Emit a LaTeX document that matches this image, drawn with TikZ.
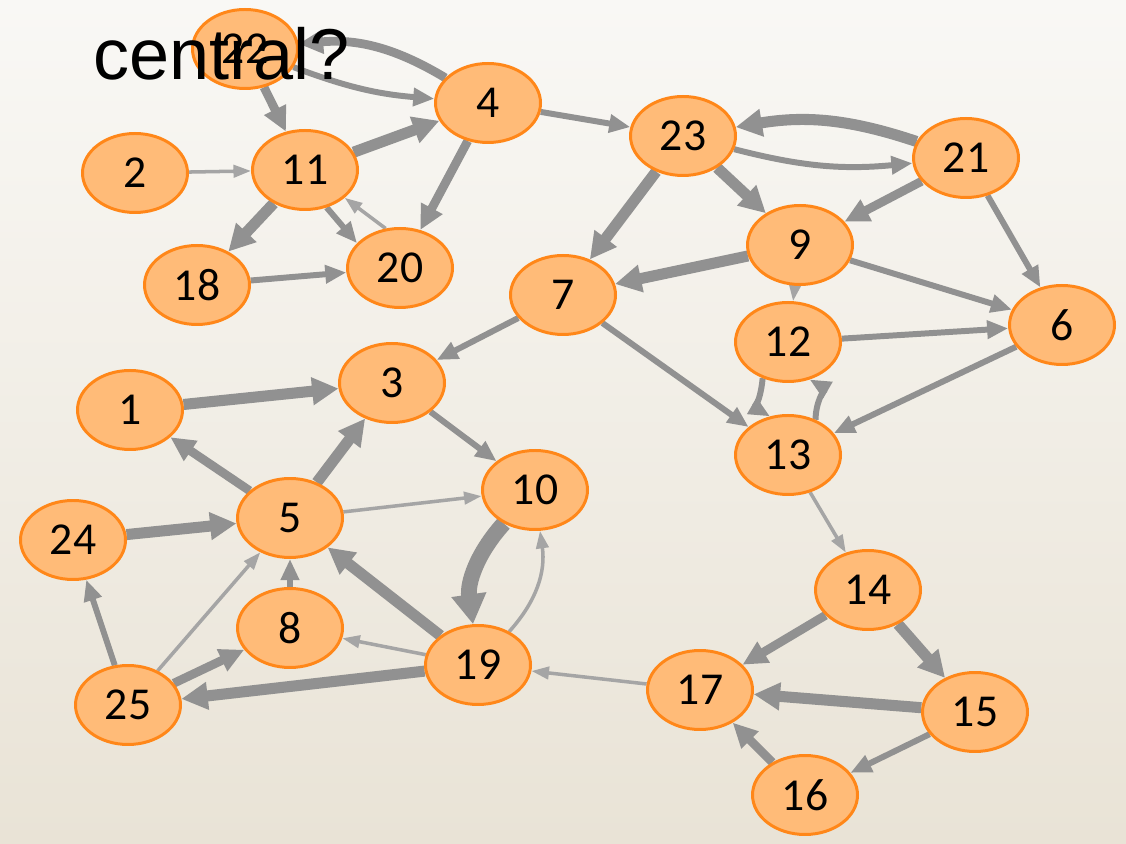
\documentclass[tikz,border=0pt]{standalone}
\usepackage{fontspec}
\setmainfont{Carlito}
\newfontfamily\arialf{Liberation Sans}
\usetikzlibrary{shapes.geometric,arrows.meta}
\pgfdeclarelayer{bg}
\pgfdeclarelayer{edges}
\pgfsetlayers{bg,edges,main}
\definecolor{nodefill}{RGB}{255,187,120}
\definecolor{nodedraw}{RGB}{255,135,25}
\definecolor{edgecol}{RGB}{145,145,145}
\definecolor{edgelight}{RGB}{165,165,165}
\definecolor{bgtop}{RGB}{249,248,245}
\definecolor{bgbot}{RGB}{233,227,214}
\tikzset{
 vtx/.style={ellipse, draw=nodedraw, fill=nodefill, line width=1.7pt, minimum width=2.1cm, minimum height=1.58cm, inner sep=0pt, font=\fontsize{26}{30}\selectfont},
 ea/.style={draw=edgelight, line width=2pt, -{Triangle[length=10pt,width=7pt]}},
 eb/.style={draw=edgecol, line width=3.4pt, -{Triangle[length=12pt,width=10pt]}},
 ec/.style={draw=edgecol, line width=5pt, -{Triangle[length=14pt,width=13pt]}},
 ed/.style={draw=edgecol, line width=6.3pt, -{Triangle[length=15pt,width=15pt]}},
 ee/.style={draw=edgecol, line width=9pt, -{Triangle[length=17pt,width=19pt]}},
}
\begin{document}
\begin{tikzpicture}
\useasboundingbox (0,0) rectangle (22.52,16.86);
\begin{pgfonlayer}{bg}
\shade[top color=bgtop, bottom color=bgbot] (0,0) rectangle (22.52,16.86);
\end{pgfonlayer}
% nodes
\node[vtx] (n22) at (4.90,15.88) {22};
\node[vtx] (n4)  at (9.76,14.80) {4};
\node[vtx] (n2)  at (2.70,13.40) {2};
\node[vtx] (n11) at (6.10,13.46) {11};
\node[vtx] (n23) at (13.66,14.14) {23};
\node[vtx] (n21) at (19.32,13.70) {21};
\node[vtx] (n18) at (3.94,11.16) {18};
\node[vtx] (n20) at (8.00,11.50) {20};
\node[vtx] (n9)  at (16.00,11.96) {9};
\node[vtx] (n7)  at (11.26,10.96) {7};
\node[vtx] (n6)  at (21.24,10.36) {6};
\node[vtx] (n12) at (15.76,10.02) {12};
\node[vtx] (n3)  at (7.84,9.20) {3};
\node[vtx] (n1)  at (2.60,8.66) {1};
\node[vtx] (n13) at (15.76,7.76) {13};
\node[vtx] (n10) at (10.70,7.06) {10};
\node[vtx] (n5)  at (5.80,6.50) {5};
\node[vtx] (n24) at (1.46,6.06) {24};
\node[vtx] (n14) at (17.36,5.06) {14};
\node[vtx] (n8)  at (5.80,4.30) {8};
\node[vtx] (n19) at (9.56,3.56) {19};
\node[vtx] (n17) at (14.00,3.06) {17};
\node[vtx] (n15) at (19.50,2.62) {15};
\node[vtx] (n25) at (2.56,2.76) {25};
\node[vtx] (n16) at (16.10,0.96) {16};
% edges
\begin{pgfonlayer}{edges}
\draw[ec] (n22) -- (n11);
\draw[ec] (n4) to[bend right=18] (n22);
\draw[eb] (n22) to[bend right=8] (n4);
\draw[ea] (n2) -- (n11);
\draw[ed] (n11) -- (n4);
\draw[ec] (n4) -- (n20);
\draw[ed] (n11) -- (n18);
\draw[eb] (n11.-60) -- (n20.150);
\draw[ea] (n20.110) -- (n11.-35);
\draw[eb] (n18) -- (n20);
\draw[eb] (n4) -- (n23);
\draw[ed] (n21) to[bend right=14] (n23);
\draw[eb] (n23) to[bend right=10] (n21);
\draw[ed] (n23) -- (n9);
\draw[ed] (n23) -- (n7);
\draw[ec] (n21) -- (n9);
\draw[eb] (n21) -- (n6);
\draw[ed] (n9) -- (n7);
\draw[eb] (n9) -- (n6);
\draw[ea] (n9) -- (n12);
\draw[eb] (n12) -- (n6);
\draw[eb] (n12.235) to[out=265,in=150] (n13.115);
\draw[eb] (n13.52) to[out=90,in=-30] (n12.300);
\draw[eb] (n6) -- (n13);
\draw[eb] (n7) -- (n13);
\draw[eb] (n7) -- (n3);
\draw[ea] (n13) -- (n14);
\draw[ec] (n14) -- (n17);
\draw[ed] (n14) -- (n15);
\draw[ed] (n15) -- (n17);
\draw[eb] (n15) -- (n16);
\draw[ec] (n16) -- (n17);
\draw[ea] (n17) -- (n19);
\draw[ed] (n1) -- (n3);
\draw[ec] (n5) -- (n1);
\draw[ed] (n5) -- (n3);
\draw[eb] (n3) -- (n10);
\draw[ea] (n5) -- (n10);
\draw[ed] (n24) -- (n5);
\draw[eb] (n25) -- (n24);
\draw[ea] (n25) -- (n5);
\draw[ec] (n25) -- (n8);
\draw[eb] (n8) -- (n5);
\draw[ed] (n19) -- (n5);
\draw[ea] (n19) -- (n8);
\draw[ed] (n19) -- (n25);
\draw[ee] (n10) to[bend right=25] (n19);
\draw[ea] (n19) to[bend right=25] (n10);
\end{pgfonlayer}
\node[font=\arialf\fontsize{41}{48}\selectfont, anchor=base west, inner sep=0pt] (title) at (1.86,15.26) {central?};
\end{tikzpicture}
\end{document}
